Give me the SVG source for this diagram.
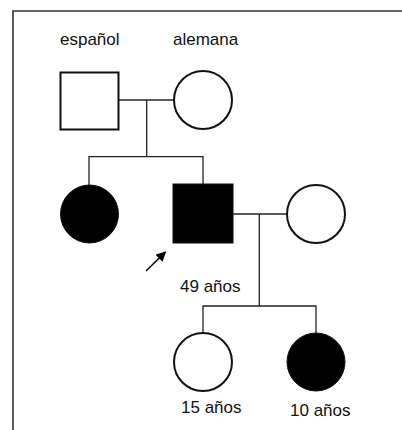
<svg xmlns="http://www.w3.org/2000/svg" width="402" height="430" viewBox="0 0 402 430">
<defs>
<style>
.t{font-family:"Liberation Sans",Arial,sans-serif;font-size:17px;fill:#111}
.o{fill:#fff;stroke:#111;stroke-width:2}
.f{fill:#000;stroke:#111;stroke-width:1}
.c{fill:none;stroke:#222;stroke-width:1.3}
</style>
<marker id="ah" viewBox="0 0 10 10" refX="9" refY="5" markerWidth="10" markerHeight="10" markerUnits="userSpaceOnUse" orient="auto">
<path d="M0,0 L10,5 L0,10 z" fill="#000"/>
</marker>
</defs>
<rect width="402" height="430" fill="#fff"/>
<path d="M13,430 V11 H402" fill="none" stroke="#333" stroke-width="1.6"/>
<g id="connectors">
<path class="c" d="M119,100 H173"/>
<path class="c" d="M146.7,100 V156.7"/>
<path class="c" d="M89,185 V156.7 H203 V184"/>
<path class="c" d="M233,214 H287"/>
<path class="c" d="M259.3,214 V306"/>
<path class="c" d="M203,333 V306 H316 V333"/>
<line x1="146" y1="271" x2="165.5" y2="252" stroke="#000" stroke-width="1.5" marker-end="url(#ah)"/>
</g>
<g id="espanol">
<rect class="o" x="60.5" y="72.5" width="58" height="57" stroke-width="2.6"/>
<text class="t" x="60" y="45">español</text>
</g>
<g id="alemana">
<circle class="o" cx="203" cy="100" r="29"/>
<text class="t" x="173" y="45">alemana</text>
</g>
<g id="hermana">
<circle class="f" cx="89.5" cy="214" r="29"/>
</g>
<g id="probando">
<rect class="f" x="173" y="184" width="60" height="59"/>
<text class="t" x="180" y="292">49 años</text>
</g>
<g id="esposa">
<circle class="o" cx="316" cy="214" r="29"/>
</g>
<g id="hija15">
<circle class="o" cx="203" cy="362" r="29"/>
<text class="t" x="181" y="412.5">15 años</text>
</g>
<g id="hija10">
<circle class="f" cx="316" cy="362" r="29"/>
<text class="t" x="290" y="415.5">10 años</text>
</g>
</svg>
